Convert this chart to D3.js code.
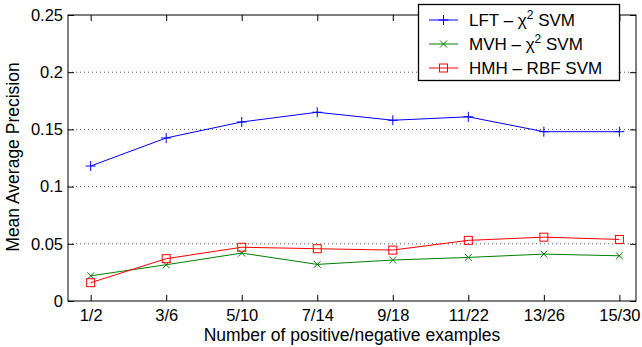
<!DOCTYPE html>
<html><head><meta charset="utf-8">
<script src="https://cdn.jsdelivr.net/npm/d3@7"></script>
<style>body{margin:0;background:#fff}text{font-family:"Liberation Sans",Arial,Helvetica,sans-serif;fill:#000}</style>
</head><body>
<svg id="c" width="642" height="347"></svg>
<script>
const categories = ["1/2","3/6","5/10","7/14","9/18","11/22","13/26","15/30"];
const lftValues = [0.118,0.1425,0.1565,0.165,0.158,0.161,0.148,0.148];
const mvhValues = [0.022,0.0317,0.0419,0.032,0.0358,0.0381,0.041,0.0395];
const hmhValues = [0.016,0.037,0.047,0.0457,0.0445,0.053,0.0558,0.0538];
const yTicks = [0,0.05,0.1,0.15,0.2,0.25];
const yTickLabels = ["0","0.05","0.1","0.15","0.2","0.25"];
const seriesNames = ["LFT – χ2 SVM","MVH – χ2 SVM","HMH – RBF SVM"];

const svg = d3.select("#c");
const L=68,R=636,T=15,B=301;
const x = d3.scaleLinear().domain([0.7,8.22]).range([L,R]);
const y = d3.scaleLinear().domain([0,0.25]).range([B,T]);
const idx = categories.map((_,i)=>i+1);

// grid
svg.append("g").selectAll("line").data(yTicks.filter(v=>v>0&&v<0.25)).join("line")
  .attr("x1",L).attr("x2",R).attr("y1",d=>y(d)).attr("y2",d=>y(d))
  .attr("stroke","#555").attr("stroke-width",1).attr("stroke-dasharray","1,3");

// axes
const fs = "16.5px";
const ax = (g)=>g.call(s=>s.select(".domain").remove());
svg.append("g").attr("transform",`translate(0,${B})`)
  .call(d3.axisBottom(x).tickValues(idx).tickFormat((d,i)=>categories[i]).tickSizeInner(-6).tickSizeOuter(0).tickPadding(8.5))
  .call(ax).call(g=>g.selectAll("text").attr("font-size",fs).attr("fill","#000").attr("font-family",null))
  .call(g=>g.selectAll("line").attr("stroke","#000"));
svg.append("g").attr("transform",`translate(0,${T})`)
  .call(d3.axisTop(x).tickValues(idx).tickFormat("").tickSizeInner(-6).tickSizeOuter(0))
  .call(ax).call(g=>g.selectAll("line").attr("stroke","#000"));
svg.append("g").attr("transform",`translate(${L},0)`)
  .call(d3.axisLeft(y).tickValues(yTicks).tickFormat((d,i)=>yTickLabels[i]).tickSizeInner(-6).tickSizeOuter(0).tickPadding(5))
  .call(ax).call(g=>g.selectAll("text").attr("font-size",fs).attr("fill","#000").attr("font-family",null))
  .call(g=>g.selectAll("line").attr("stroke","#000"));
svg.append("g").attr("transform",`translate(${R},0)`)
  .call(d3.axisRight(y).tickValues(yTicks).tickFormat("").tickSizeInner(-6).tickSizeOuter(0))
  .call(ax).call(g=>g.selectAll("line").attr("stroke","#000"));
svg.append("rect").attr("x",L).attr("y",T).attr("width",R-L).attr("height",B-T)
  .attr("fill","none").attr("stroke","#000").attr("stroke-width",1);

// labels
svg.append("text").attr("x",(L+R)/2).attr("y",341).attr("text-anchor","middle")
  .attr("font-size","17.5px").text("Number of positive/negative examples");
svg.append("text").attr("transform",`translate(19,157) rotate(-90)`).attr("text-anchor","middle")
  .attr("font-size","17.5px").text("Mean Average Precision");

// markers
function plus(g,cx,cy,c){g.append("path").attr("d",`M${cx-5},${cy}H${cx+5}M${cx},${cy-5}V${cy+5}`).attr("stroke",c).attr("fill","none");}
function cross(g,cx,cy,c){g.append("path").attr("d",`M${cx-3.5},${cy-3.5}L${cx+3.5},${cy+3.5}M${cx-3.5},${cy+3.5}L${cx+3.5},${cy-3.5}`).attr("stroke",c).attr("fill","none");}
function square(g,cx,cy,c){g.append("rect").attr("x",cx-4).attr("y",cy-4).attr("width",8).attr("height",8).attr("stroke",c).attr("fill","none");}

const series = [
  {vals:lftValues,color:"#0000ff",m:plus},
  {vals:mvhValues,color:"#008000",m:cross},
  {vals:hmhValues,color:"#ff0000",m:square}
];
const line = d3.line().x((d,i)=>x(i+1)).y(d=>y(d));
series.forEach(s=>{
  const g = svg.append("g");
  g.append("path").datum(s.vals).attr("d",line).attr("fill","none").attr("stroke",s.color).attr("stroke-width",1);
  s.vals.forEach((v,i)=>s.m(g,x(i+1),y(v),s.color));
});

// legend
const lg = svg.append("g");
lg.append("rect").attr("x",418.5).attr("y",4.5).attr("width",201).attr("height",76)
  .attr("fill","#fff").attr("stroke","#000").attr("stroke-width",1.3);
series.forEach((s,i)=>{
  const cy = 20 + i*24;
  lg.append("line").attr("x1",429).attr("x2",458).attr("y1",cy).attr("y2",cy).attr("stroke",s.color);
  s.m(lg,443.5,cy,s.color);
  const t = lg.append("text").attr("x",469).attr("y",cy+6).attr("font-size","17px");
  const nm = seriesNames[i];
  if(nm.includes("χ2")){
    const parts = nm.split("χ2");
    t.append("tspan").text(parts[0]+"χ");
    t.append("tspan").attr("dy",-7).attr("font-size","12px").text("2");
    t.append("tspan").attr("dy",7).text(parts[1]);
  } else t.text(nm);
});
</script>
</body></html>
